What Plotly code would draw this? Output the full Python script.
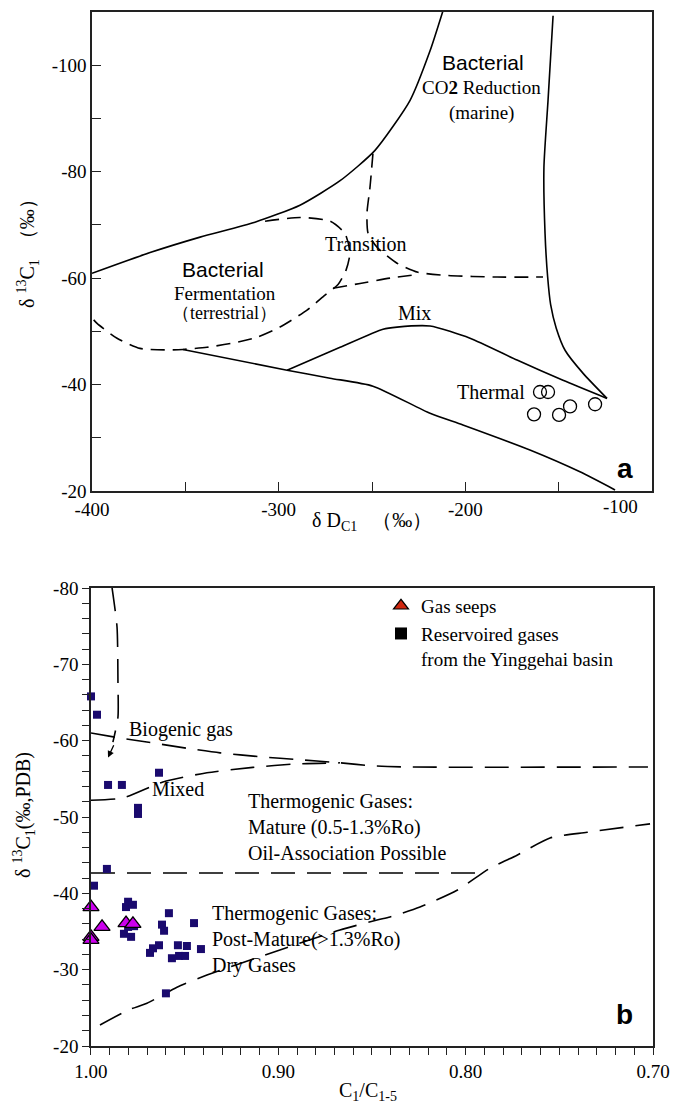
import plotly.graph_objects as go

# ---------------- Panel a data (δD vs δ13C) ----------------
a_upper_x = [-400, -368.9, -342.1, -312.7, -288.6, -267.1, -248.4, -229.6, -218.9, -212.0]
a_upper_y = [-60.9, -64.8, -67.7, -70.5, -73.7, -78.3, -84.0, -93.4, -102.7, -110.2]

a_right_x = [-153.0, -155.7, -157.9, -157.3, -155.9, -154.3, -151.3, -146.5, -136.9, -124.1]
a_right_y = [-109.3, -93.4, -80.8, -68.4, -60.2, -55.0, -50.6, -46.4, -42.1, -37.4]

a_mix_x = [-295.5, -267.1, -244.1, -236.6, -218.9, -197.5, -172.3, -147.7, -124.1]
a_mix_y = [-42.7, -47.0, -50.4, -50.8, -51.0, -48.7, -44.6, -40.8, -37.4]

a_lower_x = [-351.3, -295.5, -272.5, -249.5, -218.9, -201.3, -165.4, -138.6, -119.8]
a_lower_y = [-46.6, -42.7, -41.2, -39.7, -34.6, -32.4, -27.7, -23.6, -20.2]

a_ferm_x = [-307.3, -288.6, -272.5, -264.5, -261.8, -263.9, -268.2, -275.2, -284.8, -299.3,
            -311.6, -324.5, -338.4, -351.3, -359.8, -374.3, -386.6, -397.3, -400]
a_ferm_y = [-70.7, -71.4, -70.7, -68.4, -64.7, -61.5, -58.8, -56.8, -54.0, -50.8,
            -48.9, -47.8, -47.0, -46.6, -46.5, -46.8, -48.7, -51.5, -52.5]

a_trans_x = [-249.5, -251.1, -252.7, -252.1, -247.3, -236.6, -225.4, -209.8, -183.0, -158.4]
a_trans_y = [-83.4, -77.0, -72.2, -68.4, -65.8, -62.8, -61.1, -60.5, -60.2, -60.2]

a_trans2_x = [-270.9, -256.4, -240.4, -225.4]
a_trans2_y = [-58.1, -59.0, -60.0, -60.7]

a_samples_dD = [-160.0, -155.7, -163.2, -149.8, -143.9, -130.5]
a_samples_d13C = [-38.6, -38.6, -34.4, -34.3, -35.9, -36.3]

a_xticks = [-400, -300, -200, -100]
a_xticklabels = ["-400", "-300", "-200", ""]
a_yticks = [-20, -40, -60, -80, -100]
a_yticklabels = ["-20", "-40", "-60", "-80", "-100"]

# ---------------- Panel b data (C1/C1-5 vs δ13C) ----------------
b_vert_x = [0.9888, 0.9861, 0.9856, 0.9856, 0.9883]
b_vert_y = [-80.1, -74.9, -67.5, -63.1, -59.8]

b_bio_x = [1.0, 0.9845, 0.9669, 0.9488, 0.9311, 0.9098, 0.8884, 0.8671, 0.8495, 0.8300, 0.7027]
b_bio_y = [-61.0, -60.35, -59.7, -59.0, -58.4, -57.9, -57.5, -57.1, -56.7, -56.55, -56.55]

b_mix_x = [1.0, 0.9829, 0.9616, 0.9381, 0.9136, 0.8906, 0.8671]
b_mix_y = [-52.2, -52.5, -54.6, -55.8, -56.5, -56.95, -57.1]

b_mat_x = [1.0, 0.794]
b_mat_y = [-42.66, -42.66]

b_dry_x = [0.9952, 0.9802, 0.9701, 0.9541, 0.9381, 0.9098, 0.8671, 0.8473, 0.8404, 0.8244,
           0.8046, 0.7870, 0.7726, 0.7550, 0.7352, 0.7016]
b_dry_y = [-22.75, -24.7, -25.6, -27.7, -29.3, -31.7, -35.2, -36.5, -36.9, -38.2,
           -40.4, -43.3, -45.0, -47.25, -48.0, -49.1]

res_ratio = [1.000, 0.9968, 0.9909, 0.9835, 0.9637, 0.9749, 0.9749, 0.9915, 0.9984, 0.9813,
             0.9802, 0.9776, 0.9824, 0.9786, 0.9802, 0.9770, 0.9584, 0.9621, 0.9610, 0.9685,
             0.9669, 0.9637, 0.9536, 0.9568, 0.9530, 0.9498, 0.9488, 0.9450, 0.9413, 0.9600]
res_d13C = [-65.8, -63.4, -54.2, -54.2, -55.8, -51.2, -50.4, -43.2, -41.0, -38.2,
            -38.9, -38.5, -34.7, -34.3, -35.6, -35.7, -37.4, -35.9, -35.1, -32.2,
            -32.8, -33.2, -33.2, -31.5, -31.8, -31.8, -33.1, -36.1, -32.7, -26.9]

seep_ratio = [1.000, 1.000, 1.000, 0.9941, 0.9813, 0.9776]
seep_d13C = [-38.2, -34.3, -33.9, -35.6, -36.1, -36.0]

b_xticks = [1.0, 0.9, 0.8, 0.7]
b_xticklabels = ["1.00", "0.90", "0.80", "0.70"]
b_yticks = [-20, -30, -40, -50, -60, -70, -80]
b_yticklabels = ["-20", "-30", "-40", "-50", "-60", "-70", "-80"]

SERIF = "Liberation Serif"
SANS = "Liberation Sans"

fig = go.Figure()

def line(x, y, xa, ya, dash="solid", width=1.6):
    fig.add_trace(go.Scatter(x=x, y=y, xaxis=xa, yaxis=ya, mode="lines",
                             line=dict(color="black", width=width, dash=dash, shape="spline", smoothing=0.6),
                             showlegend=False, hoverinfo="skip"))

# panel a lines
line(a_upper_x, a_upper_y, "x", "y")
line(a_right_x, a_right_y, "x", "y")
line(a_mix_x, a_mix_y, "x", "y")
line(a_lower_x, a_lower_y, "x", "y")
line(a_ferm_x, a_ferm_y, "x", "y", dash="14px,8px")
line(a_trans_x, a_trans_y, "x", "y", dash="14px,8px")
line(a_trans2_x, a_trans2_y, "x", "y", dash="14px,8px")

fig.add_trace(go.Scatter(x=a_samples_dD, y=a_samples_d13C, xaxis="x", yaxis="y", mode="markers",
                         marker=dict(symbol="circle-open", size=13, color="black", line=dict(width=1.3)),
                         showlegend=False, cliponaxis=False))

# panel b lines
line(b_vert_x, b_vert_y, "x2", "y2", dash="24px,12px")
line(b_bio_x, b_bio_y, "x2", "y2", dash="24px,12px")
line(b_mix_x, b_mix_y, "x2", "y2", dash="24px,12px")
line(b_mat_x, b_mat_y, "x2", "y2", dash="24px,12px")
line(b_dry_x, b_dry_y, "x2", "y2", dash="24px,12px")

fig.add_trace(go.Scatter(x=res_ratio, y=res_d13C, xaxis="x2", yaxis="y2", mode="markers",
                         marker=dict(symbol="square", size=8, color="#1a0a6e", line=dict(width=0)),
                         showlegend=False, cliponaxis=False))
fig.add_trace(go.Scatter(x=seep_ratio, y=seep_d13C, xaxis="x2", yaxis="y2", mode="markers",
                         marker=dict(symbol="triangle-up", size=14, color="#cc00ee",
                                     line=dict(color="black", width=1.3)),
                         showlegend=False, cliponaxis=False))

# legend entries
fig.add_trace(go.Scatter(x=[None], y=[None], xaxis="x2", yaxis="y2", mode="markers", name="Gas seeps",
                         marker=dict(symbol="triangle-up", size=13, color="#d02810",
                                     line=dict(color="black", width=1.2))))
fig.add_trace(go.Scatter(x=[None], y=[None], xaxis="x2", yaxis="y2", mode="markers",
                         name="Reservoired gases<br>from the Yinggehai basin",
                         marker=dict(symbol="square", size=12, color="black")))

tickfont = dict(family=SERIF, size=19, color="black")
axline = dict(showline=True, linecolor="#222", linewidth=1.5, mirror=True, showgrid=False,
              zeroline=False, tickfont=tickfont, tickcolor="#222", tickwidth=1.3, automargin=False)

fig.update_layout(
    width=676, height=1112, margin=dict(l=0, r=0, t=0, b=0, autoexpand=False),
    paper_bgcolor="white", plot_bgcolor="white",
    font=dict(family=SERIF, size=19, color="black"),
    xaxis=dict(domain=[0.1361, 0.9645], anchor="y", range=[-400, -100],
               tickvals=a_xticks, ticktext=a_xticklabels,
               ticks="inside", ticklen=9, minor=dict(dtick=50, ticks="inside", ticklen=9, tickcolor="#222"),
               **axline),
    yaxis=dict(domain=[0.55845, 0.98921], anchor="x", range=[-20, -110],
               tickvals=a_yticks, ticktext=a_yticklabels,
               ticks="inside", ticklen=9, minor=dict(dtick=10, ticks="inside", ticklen=9, tickcolor="#222"),
               **axline),
    xaxis2=dict(domain=[0.1346, 0.9660], anchor="y2", range=[1.0, 0.7],
                tickvals=b_xticks, ticktext=b_xticklabels,
                ticks="outside", ticklen=7, minor=dict(dtick=0.01, ticks="outside", ticklen=7, tickcolor="#222"),
                **axline),
    yaxis2=dict(domain=[0.05935, 0.47122], anchor="x2", range=[-20, -80],
                tickvals=b_yticks, ticktext=b_yticklabels,
                ticks="outside", ticklen=7, minor=dict(dtick=2, ticks="outside", ticklen=7, tickcolor="#222"),
                **axline),
    legend=dict(x=0.5636, y=0.4722, xanchor="left", yanchor="top", valign="top",
                font=dict(family=SERIF, size=19, color="black"), bgcolor="rgba(0,0,0,0)",
                itemwidth=30, tracegroupgap=4),
    showlegend=True,
)

ann = []
def txt(text, x, y, xref, yref, size=20, family=SERIF, xanchor="center", yanchor="middle", align="center", angle=0):
    ann.append(dict(text=text, x=x, y=y, xref=xref, yref=yref, showarrow=False, xanchor=xanchor,
                    yanchor=yanchor, align=align, textangle=angle,
                    font=dict(family=family, size=size, color="black")))

# panel a texts
txt("Bacterial", -190.5, -100.5, "x", "y", size=21, family=SANS)
txt("CO<b>2</b> Reduction", -191.1, -95.8, "x", "y", size=19)
txt("(marine)", -191.1, -91.1, "x", "y", size=19)
txt("Transition", -253.2, -66.5, "x", "y", size=20)
txt("Bacterial", -329.8, -61.65, "x", "y", size=21, family=SANS)
txt("Fermentation", -328.8, -57.1, "x", "y", size=19)
txt("（terrestrial）", -328.8, -53.4, "x", "y", size=18)
txt("Mix", -227.0, -53.4, "x", "y", size=20)
txt("Thermal", -186.3, -38.6, "x", "y", size=20)
txt("<b>a</b>", -114.5, -24.3, "x", "y", size=28, family=SANS)
txt("-100", -117.1, 1 - 507 / 1112, "x", "paper", size=19)
txt("δ <sup>13</sup>C<sub>1</sub>  （‰）", 0.0414, 0.777, "paper", "paper", size=20, angle=-90)
txt("δ D<sub>C1</sub>   （‰）", 0.5503, 0.5306, "paper", "paper", size=20)

# panel b texts
txt("Biogenic gas", 0.9808, -61.5, "x2", "y2", size=20, xanchor="left")
txt("Mixed", 0.9685, -53.7, "x2", "y2", size=20, xanchor="left")
txt("Thermogenic Gases:<br>Mature (0.5-1.3%Ro)<br>Oil-Association Possible", 0.9172, -48.7, "x2", "y2",
    size=20, xanchor="left", align="left")
txt("Thermogenic Gases:<br>Post-Mature(>1.3%Ro)<br>Dry Gases", 0.9364, -33.9, "x2", "y2",
    size=20, xanchor="left", align="left")
txt("<b>b</b>", 0.715, -24.1, "x2", "y2", size=28, family=SANS)
txt("δ <sup>13</sup>C<sub>1</sub>(‰,PDB)", 0.0355, 0.2671, "paper", "paper", size=20, angle=-90)
txt("C<sub>1</sub>/C<sub>1-5</sub>", 0.5444, 0.0180, "paper", "paper", size=20)

# small arrow at end of vertical dashed line
ann.append(dict(x=0.9909, y=-57.8, ax=0.9875, ay=-59.6, xref="x2", yref="y2", axref="x2", ayref="y2",
                text="", showarrow=True, arrowhead=2, arrowsize=1, arrowwidth=1.3, arrowcolor="black"))

fig.update_layout(annotations=ann)
fig.write_html("out.html")
